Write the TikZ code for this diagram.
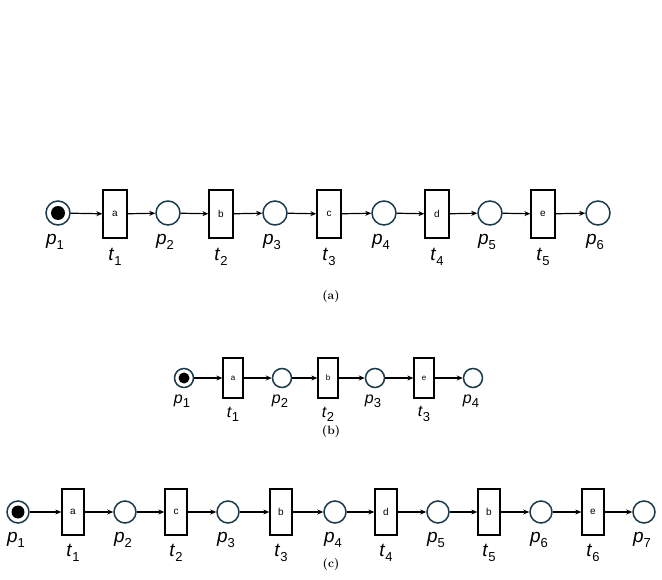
\documentclass[tikz,border=0pt]{standalone}
\usepackage{fontspec}
\setmainfont{Latin Modern Roman}
\newfontfamily\labfont{Liberation Sans}
\usetikzlibrary{arrows.meta}
\definecolor{pl}{HTML}{1B3A4B}
\newcommand{\lb}[2]{\labfont\textit{#1}\raisebox{-0.5ex}{\fontsize{13}{14}\selectfont #2}}
\tikzset{
 place/.style={circle,draw=pl,line width=1.5pt,minimum size=#1,inner sep=0pt},
 trans/.style={rectangle,draw,line width=1.3pt,inner sep=0pt,font=\labfont\fontsize{10}{11}\selectfont},
 arc/.style={-{Stealth[length=6pt,width=5pt]},line width=1.2pt},
 tok/.style={circle,fill=black,inner sep=0pt,minimum size=#1},
 captext/.style={font=\fontsize{12}{13}\selectfont\bfseries},
 lbA/.style={font=\fontsize{19}{20}\selectfont},
 lbB/.style={font=\fontsize{16}{17}\selectfont}
}
\begin{document}
\begin{tikzpicture}[x=1pt,y=-1pt]
\useasboundingbox (0,0) rectangle (662,580);
% row a
\foreach \n/\x in {1/58,2/168,3/275,4/384,5/490,6/598}{
 \node[place=24pt] (ap\n) at (\x,213) {};
 \node[lbA] (apl\n) at (\x-3,242) {\lb{p}{\n}};}
\node[tok=14pt] (atok) at (ap1) {};
\foreach \n/\x/\l in {1/115/a,2/221/b,3/329/c,4/437/d,5/543/e}{
 \node[trans,minimum width=24pt,minimum height=48pt] (at\n) at (\x,214) {\l};
 \node[lbA] (atl\n) at (\x,257) {\lb{t}{\n}};}
\foreach \i/\j in {1/1,2/2,3/3,4/4,5/5}{
 \draw[arc] (ap\i) -- (at\j);}
\foreach \i/\j in {1/2,2/3,3/4,4/5,5/6}{
 \draw[arc] (at\i) -- (ap\j);}
\node[captext] (capa) at (331,297) {(a)};
% row b
\foreach \n/\x in {1/184,2/282,3/375,4/473}{
 \node[place=19pt] (bp\n) at (\x,378) {};
 \node[lbB] (bpl\n) at (\x-2,401) {\lb{p}{\n}};}
\node[tok=11pt] (btok) at (bp1) {};
\foreach \n/\x/\l in {1/233/a,2/328/b,3/424/e}{
 \node[trans,minimum width=20pt,minimum height=40pt,font=\labfont\fontsize{8}{9}\selectfont] (bt\n) at (\x,378) {\l};
 \node[lbB] (btl\n) at (\x,414) {\lb{t}{\n}};}
\foreach \i in {1,2,3}{\draw[arc] (bp\i) -- (bt\i);}
\foreach \i/\j in {1/2,2/3,3/4}{\draw[arc] (bt\i) -- (bp\j);}
\node[captext] (capb) at (331,432) {(b)};
% row c
\foreach \n/\x in {1/18,2/125,3/228,4/335,5/438,6/541,7/644}{
 \node[place=22pt] (cp\n) at (\x,512) {};
 \node[lbA] (cpl\n) at (\x-2,540) {\lb{p}{\n}};}
\node[tok=13pt] (ctok) at (cp1) {};
\foreach \n/\x/\l in {1/73/a,2/176/c,3/281/b,4/386/d,5/489/b,6/593/e}{
 \node[trans,minimum width=22pt,minimum height=46pt] (ct\n) at (\x,512) {\l};
 \node[lbA] (ctl\n) at (\x,553) {\lb{t}{\n}};}
\foreach \i in {1,...,6}{\draw[arc] (cp\i) -- (ct\i);}
\foreach \i/\j in {1/2,2/3,3/4,4/5,5/6,6/7}{\draw[arc] (ct\i) -- (cp\j);}
\node[captext] (capc) at (331,565) {(c)};
\end{tikzpicture}
\end{document}
